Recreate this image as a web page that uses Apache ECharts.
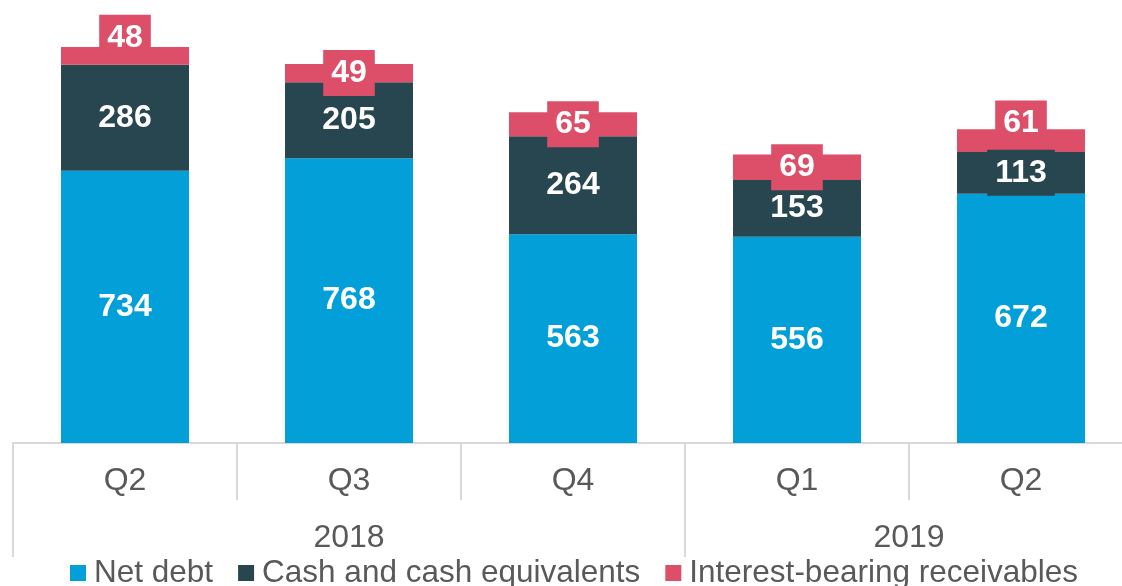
<!DOCTYPE html>
<html>
<head>
<meta charset="utf-8">
<script src="https://cdn.jsdelivr.net/npm/echarts@6/dist/echarts.min.js"></script>
<style>
  html, body { margin: 0; padding: 0; background: #fff; }
  #chart { width: 1122px; height: 586px; }
</style>
</head>
<body>
<div id="chart"></div>
<script>
const quarters = ['Q2', 'Q3', 'Q4', 'Q1', 'Q2']
const years = ['2018', '2019']
const yearSpans = [3, 2]
const netDebt = [734, 768, 563, 556, 672]
const cash = [286, 205, 264, 153, 113]
const receivables = [48, 49, 65, 69, 61]

const blue = '#029fd9'
const dark = '#28464f'
const pink = '#dd4f69'
const grey = '#595959'
const lineGrey = '#d9d9d9'
const font = '"Liberation Sans", Arial, sans-serif'

// labels of the small top segments that are lifted a bit
const liftedLabels = { 0: -18, 4: -17 }

// second axis: half-quarter slots so year labels sit at the middle of their span
const slotCount = quarters.length * 2 + 1
const yearLabelAt = {}
const yearTickAt = { 0: true }
let start = 0
years.forEach((y, i) => {
  yearLabelAt[start + yearSpans[i]] = y
  start += yearSpans[i] * 2
  yearTickAt[start] = true
})
const yearSlots = Array.from({ length: slotCount }, (_, i) => String(i))

const labelStyle = (color) => ({
  show: true,
  position: 'inside',
  color: '#fff',
  fontFamily: font,
  fontWeight: 'bold',
  fontSize: 32,
  backgroundColor: color,
  padding: [7, 8]
})

const chart = echarts.init(document.getElementById('chart'))
chart.setOption({
  animation: false,
  grid: { left: 13, width: 1120, top: -2, bottom: 143, outerBoundsMode: 'none', containLabel: false },
  legend: {
    left: 65,
    top: 552,
    itemWidth: 16,
    itemHeight: 16,
    itemGap: 25,
    icon: 'rect',
    textStyle: { color: grey, fontSize: 31.5, fontFamily: font, padding: [0, 0, 0, 3] },
    data: ['Net debt', 'Cash and cash equivalents', 'Interest-bearing receivables']
  },
  xAxis: [
    {
      type: 'category',
      data: quarters,
      axisLine: { lineStyle: { color: lineGrey, width: 2 } },
      axisTick: { show: true, interval: 0, length: 57, lineStyle: { color: lineGrey, width: 2 } },
      axisLabel: { color: grey, fontSize: 32, fontFamily: font, margin: 22 }
    },
    {
      type: 'category',
      position: 'bottom',
      boundaryGap: false,
      data: yearSlots,
      axisLine: { show: false },
      axisTick: {
        show: true,
        length: 114,
        interval: (idx) => !!yearTickAt[idx],
        lineStyle: { color: lineGrey, width: 2 }
      },
      axisLabel: {
        interval: 0,
        color: grey,
        fontSize: 32,
        fontFamily: font,
        margin: 79,
        formatter: (v) => yearLabelAt[v] || ''
      }
    }
  ],
  yAxis: { type: 'value', min: 0, max: 1200, show: false, splitLine: { show: false } },
  series: [
    {
      name: 'Net debt',
      type: 'bar',
      stack: 'total',
      barWidth: 128,
      itemStyle: { color: blue },
      label: labelStyle(blue),
      data: netDebt
    },
    {
      name: 'Cash and cash equivalents',
      type: 'bar',
      stack: 'total',
      itemStyle: { color: dark },
      label: labelStyle(dark),
      data: cash
    },
    {
      name: 'Interest-bearing receivables',
      type: 'bar',
      stack: 'total',
      itemStyle: { color: pink },
      label: labelStyle(pink),
      data: receivables.map((v, i) =>
        liftedLabels[i] ? { value: v, label: { offset: [0, liftedLabels[i]] } } : v
      )
    }
  ]
})
</script>
</body>
</html>
